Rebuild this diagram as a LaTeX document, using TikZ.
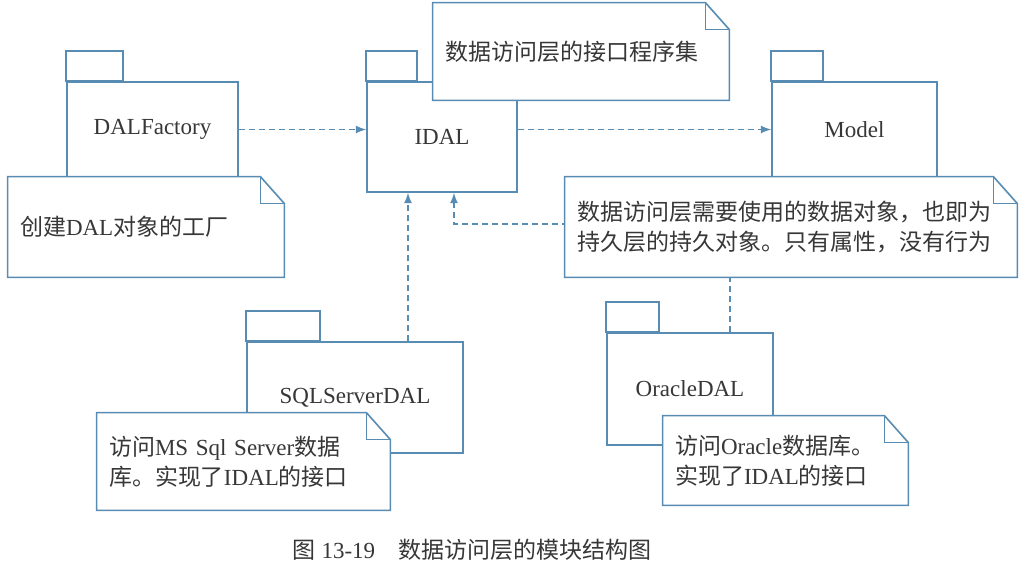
\documentclass[tikz,border=0pt]{standalone}
\usepackage{fontspec}
\setmainfont{Liberation Serif}
\newfontfamily\cjk{Noto Sans CJK SC}
\usetikzlibrary{arrows,calc}
\definecolor{umlblue}{RGB}{88,140,178}
\definecolor{inkgray}{RGB}{55,55,55}
\newcommand{\zh}[1]{{\cjk #1}}
% tab on top of a package, folded outline round a note
\newcommand{\pkgtab}[2]{\draw[pkg,fill=white] (#1.north west) rectangle ++(#2,-30);}
\newcommand{\notefold}[1]{%
\draw[pkg] (#1.north west) -- ($(#1.north east)+(-24,0)$) -- ($(#1.north east)+(0,27)$)
    -- (#1.south east) -- (#1.south west) -- cycle;
\draw[pkg] ($(#1.north east)+(-24,0)$) |- ($(#1.north east)+(0,27)$);}

\begin{document}
\begin{tikzpicture}[x=0.5pt,y=-0.5pt,
pkg/.style={draw=umlblue,line width=0.8pt},
pkgbody/.style={pkg,fill=white,inner sep=0pt,text=inkgray,font=\fontsize{11.5}{14}\selectfont},
note/.style={fill=white,inner xsep=6pt,inner ysep=0pt,align=left,text=inkgray,font=\fontsize{11.5}{15}\selectfont},
dep/.style={draw=umlblue,line width=0.8pt,dash pattern=on 3pt off 2pt,->},
>=latex]

\path[use as bounding box,fill=white] (0,0) rectangle (1024,568);

% packages
\node[pkgbody,minimum width=85.5pt,minimum height=47.5pt] (dal) at (152.5,129.5) {DALFactory};
\pkgtab{dal}{57}
\node[pkgbody,minimum width=75pt,minimum height=55pt] (idal) at (442,137) {IDAL};
\pkgtab{idal}{51}
\node[pkgbody,minimum width=82.5pt,minimum height=47.5pt] (model) at (854.5,129.5) {Model};
\pkgtab{model}{52}
\node[pkgbody,minimum width=108pt,minimum height=55.5pt] (sql) at (355,397.5) {SQLServerDAL};
\pkgtab{sql}{74}
\node[pkgbody,minimum width=83pt,minimum height=56pt] (ora) at (690,389) {OracleDAL};
\pkgtab{ora}{53}

% dependencies
\draw[dep] (dal.east) -- (dal.east -| idal.west);
\draw[dep] (idal.east |- dal.east) -- (model.west |- dal.east);
\coordinate (sqlup) at ($(sql.north)+(53,0)$);
\draw[dep] (sqlup) -- (sqlup |- idal.south);
\coordinate (oraup) at ($(ora.north)+(40,0)$);
\coordinate (idalin) at ($(idal.south)+(12,0)$);
\draw[dep] (oraup) |- ($(idalin)+(0,31)$) -- (idalin);

% notes
\node[note,minimum width=138pt,minimum height=50pt,text width=126pt] (ndal) at (146,227)
    {\zh{创建}DAL\zh{对象的工厂}};
\notefold{ndal}
\node[note,minimum width=148pt,minimum height=48.5pt,text width=136pt] (nidal) at (581,51.5)
    {\zh{数据访问层的接口程序集}};
\notefold{nidal}
\node[note,minimum width=226pt,minimum height=50pt,text width=214pt] (nmodel) at (791,227)
    {\zh{数据访问层需要使用的数据对象，也即为}\\\zh{持久层的持久对象。只有属性，没有行为}};
\notefold{nmodel}
\node[note,minimum width=146.5pt,minimum height=48.5pt,text width=134.5pt] (nsql) at (243.5,461.5)
    {\zh{访问}MS Sql Server\zh{数据}\\\zh{库。实现了}IDAL\zh{的接口}};
\notefold{nsql}
\node[note,minimum width=122.5pt,minimum height=44.5pt,text width=110.5pt] (nora) at (785.5,460.5)
    {\zh{访问}Oracle\zh{数据库。}\\\zh{实现了}IDAL\zh{的接口}};
\notefold{nora}

% caption
\node[text=inkgray,font=\fontsize{11.5}{14}\selectfont] (cap) at (472,550)
    {\zh{图} 13-19\quad\zh{数据访问层的模块结构图}};
\end{tikzpicture}
\end{document}
